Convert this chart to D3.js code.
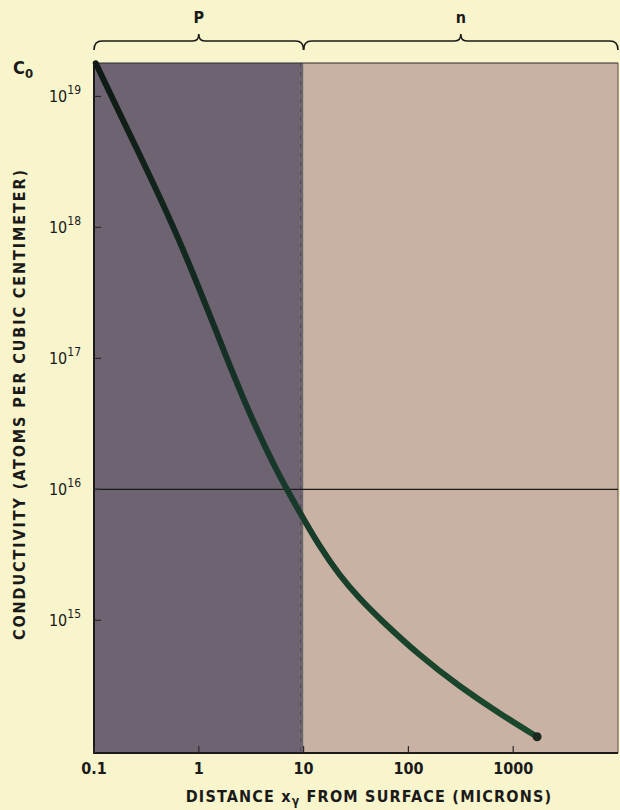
<!DOCTYPE html>
<html><head><meta charset="utf-8">
<script src="https://cdn.jsdelivr.net/npm/d3@7"></script>
<style>
html,body{margin:0;padding:0;background:#f8f4cb;}
svg{display:block;}
text{font-family:"DejaVu Sans Condensed","Liberation Sans Narrow","DejaVu Sans",sans-serif;fill:#1a1a1a;}
</style></head>
<body>
<script>
// Data
const distance = [0.104, 0.177, 0.342, 0.593, 1.027, 1.78, 3.08, 5.34, 9.25, 14.3, 22.2, 34.5, 53.6, 129, 311, 748, 1690];
const concentration = [1.79e19, 7.33e18, 2.47e18, 9.53e17, 3.32e17, 1.08e17, 3.69e16, 1.45e16, 6.59e15, 3.63e15, 2.18e15, 1.455e15, 1.02e15, 5.33e14, 3.10e14, 1.93e14, 1.29e14];
const xTicks = [0.1, 1, 10, 100, 1000];
const xTickLabels = ["0.1", "1", "10", "100", "1000"];
const yTicks = [1e19, 1e18, 1e17, 1e16, 1e15];
const yTickExponents = ["19", "18", "17", "16", "15"];
const regions = [{name: "P", from: 0.1, to: 10}, {name: "n", from: 10, to: 10000}];
const junctionLevel = 1e16;

(function () {
const W = 620, H = 810;
const svg = d3.select("body").append("svg").attr("width", W).attr("height", H);

const x = d3.scaleLog().domain([0.1, 10000]).range([94, 618]);
const y = d3.scaleLog().domain([0.97e14, 1.8e19]).range([753, 63]);
const plotTop = y.range()[1], plotBottom = y.range()[0];

const defs = svg.append("defs");
const grad = defs.append("linearGradient").attr("id", "curveGrad")
  .attr("gradientUnits", "userSpaceOnUse").attr("x1", 0).attr("y1", plotTop).attr("x2", 0).attr("y2", plotBottom);
grad.append("stop").attr("offset", "0%").attr("stop-color", "#0f1a14");
grad.append("stop").attr("offset", "55%").attr("stop-color", "#17362a");
grad.append("stop").attr("offset", "100%").attr("stop-color", "#1b4a2c");

// shaded regions
const fills = {P: "#6e6370", n: "#c9b2a3"};
svg.selectAll("rect.region").data(regions).join("rect")
  .attr("class", "region")
  .attr("x", d => x(d.from)).attr("width", d => x(d.to) - x(d.from))
  .attr("y", plotTop).attr("height", plotBottom - plotTop)
  .attr("fill", d => fills[d.name]);

// dashed boundary at junction
svg.append("line").attr("x1", x(10) - 3).attr("x2", x(10) - 3).attr("y1", plotTop).attr("y2", plotBottom)
  .attr("stroke", "#4a404a").attr("stroke-width", 1).attr("stroke-dasharray", "4,5").attr("opacity", 0.7);

// frame
svg.append("line").attr("x1", x(0.1)).attr("x2", x(10000)).attr("y1", plotTop).attr("y2", plotTop).attr("stroke", "#2a2a2a").attr("stroke-width", 1.2);
svg.append("line").attr("x1", x(10000)).attr("x2", x(10000)).attr("y1", plotTop).attr("y2", plotBottom).attr("stroke", "#5a4a4a").attr("stroke-width", 1);
svg.append("line").attr("x1", x(0.1)).attr("x2", x(0.1)).attr("y1", plotTop).attr("y2", plotBottom + 1).attr("stroke", "#1a1a1a").attr("stroke-width", 2);
svg.append("line").attr("x1", x(0.1)).attr("x2", x(10000)).attr("y1", plotBottom).attr("y2", plotBottom).attr("stroke", "#1a1a1a").attr("stroke-width", 2);

// 10^16 horizontal line
svg.append("line").attr("x1", x(0.1)).attr("x2", x(10000)).attr("y1", y(junctionLevel)).attr("y2", y(junctionLevel))
  .attr("stroke", "#1a1a1a").attr("stroke-width", 1.2);

// ticks
svg.selectAll("line.xt").data(xTicks).join("line").attr("class", "xt")
  .attr("x1", d => x(d)).attr("x2", d => x(d)).attr("y1", plotBottom).attr("y2", plotBottom - 7)
  .attr("stroke", "#2a2a2a").attr("stroke-width", 1.2);
svg.selectAll("line.yt").data(yTicks).join("line").attr("class", "yt")
  .attr("x1", x(0.1)).attr("x2", x(0.1) + 7).attr("y1", d => y(d)).attr("y2", d => y(d))
  .attr("stroke", "#2a2a2a").attr("stroke-width", 1.2);

// x tick labels
svg.selectAll("text.xl").data(xTicks).join("text").attr("class", "xl")
  .attr("x", d => x(d)).attr("y", plotBottom + 21).attr("text-anchor", "middle")
  .attr("font-size", 16).attr("font-weight", "bold")
  .text((d, i) => xTickLabels[i]);

// y tick labels: 10 with superscript
const yl = svg.selectAll("text.yl").data(yTicks).join("text").attr("class", "yl")
  .attr("x", 81).attr("y", d => y(d) + 6).attr("text-anchor", "end")
  .attr("font-size", 16);
yl.append("tspan").text("10");
yl.append("tspan").attr("dy", -8).attr("font-size", 12).text((d, i) => yTickExponents[i]);

// C0 label
const c0 = svg.append("text").attr("x", 13).attr("y", 74).attr("font-size", 18).attr("font-weight", "bold");
c0.append("tspan").text("C");
c0.append("tspan").attr("dy", 4).attr("font-size", 13).text("0");

// curve
const line = d3.line().x(d => x(d[0])).y(d => y(d[1])).curve(d3.curveBasis);
const pts = distance.map((d, i) => [d, concentration[i]]);
svg.append("path").datum(pts).attr("d", line)
  .attr("fill", "none").attr("stroke", "url(#curveGrad)").attr("stroke-width", 6).attr("stroke-linecap", "round");
svg.append("circle").attr("cx", x(distance[distance.length - 1])).attr("cy", y(concentration[concentration.length - 1]))
  .attr("r", 4.5).attr("fill", "#1a2a20");

// braces
function brace(x0, x1, yb) {
  const m = (x0 + x1) / 2, r = 8, h = 9;
  const yh = yb - h;
  return `M${x0},${yb} Q${x0},${yh} ${x0 + r},${yh} L${m - 6},${yh} Q${m},${yh} ${m},${yh - 7} Q${m},${yh} ${m + 6},${yh} L${x1 - r},${yh} Q${x1},${yh} ${x1},${yb}`;
}
svg.selectAll("path.brace").data(regions).join("path").attr("class", "brace")
  .attr("d", d => brace(x(d.from), x(d.to), 50))
  .attr("fill", "none").attr("stroke", "#1a1a1a").attr("stroke-width", 1.6);
svg.selectAll("text.rl").data(regions).join("text").attr("class", "rl")
  .attr("x", d => (x(d.from) + x(d.to)) / 2).attr("y", 23).attr("text-anchor", "middle")
  .attr("font-size", 16).attr("font-weight", "bold").text(d => d.name);

// axis titles
svg.append("text").attr("transform", "translate(25,405) rotate(-90)").attr("text-anchor", "middle")
  .attr("font-size", 16).attr("font-weight", "bold").attr("textLength", 470).attr("lengthAdjust", "spacing")
  .text("CONDUCTIVITY (ATOMS PER CUBIC CENTIMETER)");
const xt = svg.append("text").attr("x", 369).attr("y", 802).attr("text-anchor", "middle")
  .attr("font-size", 16).attr("font-weight", "bold").attr("letter-spacing", "1.2px");
xt.append("tspan").text("DISTANCE x");
xt.append("tspan").attr("dy", 3).attr("font-size", 12).text("γ");
xt.append("tspan").attr("dy", -3).text(" FROM SURFACE  (MICRONS)");
})();
</script>
</body></html>
